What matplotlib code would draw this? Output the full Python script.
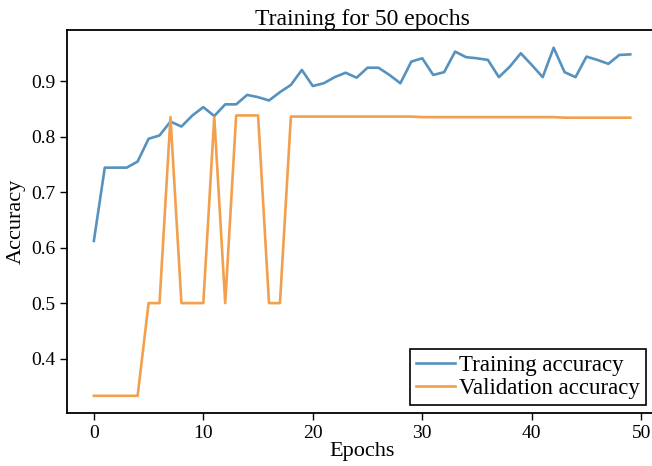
import numpy as np
import matplotlib
matplotlib.use('Agg')
import matplotlib.pyplot as plt

plt.rcParams['font.family'] = ['Liberation Serif', 'DejaVu Serif']

epochs = np.arange(50)
train_acc = [0.612, 0.744, 0.744, 0.744, 0.755, 0.796, 0.802, 0.827, 0.818, 0.838,
             0.853, 0.837, 0.858, 0.858, 0.875, 0.871, 0.865, 0.880, 0.893, 0.920,
             0.891, 0.896, 0.907, 0.915, 0.906, 0.924, 0.924, 0.911, 0.896, 0.935,
             0.941, 0.911, 0.916, 0.953, 0.943, 0.941, 0.938, 0.907, 0.926, 0.950,
             0.929, 0.907, 0.960, 0.916, 0.907, 0.944, 0.938, 0.931, 0.947, 0.948]
val_acc = [0.333, 0.333, 0.333, 0.333, 0.333, 0.500, 0.500, 0.835, 0.500, 0.500,
           0.500, 0.835, 0.500, 0.838, 0.838, 0.838, 0.500, 0.500, 0.836, 0.836,
           0.836, 0.836, 0.836, 0.836, 0.836, 0.836, 0.836, 0.836, 0.836, 0.836,
           0.835, 0.835, 0.835, 0.835, 0.835, 0.835, 0.835, 0.835, 0.835, 0.835,
           0.835, 0.835, 0.835, 0.834, 0.834, 0.834, 0.834, 0.834, 0.834, 0.834]

fig = plt.figure(figsize=(6.52, 4.66), dpi=100)
ax = fig.add_axes([0.1028, 0.1137, 0.905, 0.822])

ax.plot(epochs, train_acc, color='#5692bd', lw=1.9, label='Training accuracy')
ax.plot(epochs, val_acc, color='#f2a04e', lw=1.9, label='Validation accuracy')

ax.set_xlim(-2.45, 51.45)
ax.set_ylim(0.302, 0.992)
ax.set_xticks([0, 10, 20, 30, 40, 50])
ax.set_yticks([0.4, 0.5, 0.6, 0.7, 0.8, 0.9])
ax.tick_params(labelsize=14, length=5, width=1.0)
for s in ax.spines.values():
    s.set_linewidth(1.3)
# the picture is cut at the right edge, so no right spine shows
ax.spines['right'].set_visible(False)

ax.set_title('Training for 50 epochs', fontsize=17, pad=3)
ax.set_xlabel('Epochs', fontsize=16, labelpad=0)
ax.set_ylabel('Accuracy', fontsize=16, labelpad=4)

leg = ax.legend(loc='lower right', bbox_to_anchor=(0.981, 0.021), borderaxespad=0,
                fontsize=16.5, fancybox=False, edgecolor='black', framealpha=1,
                handlelength=1.7, handletextpad=0.2, borderpad=0.25, labelspacing=0.1)
leg.get_frame().set_linewidth(1.2)

fig.savefig('out.png', dpi=100)
